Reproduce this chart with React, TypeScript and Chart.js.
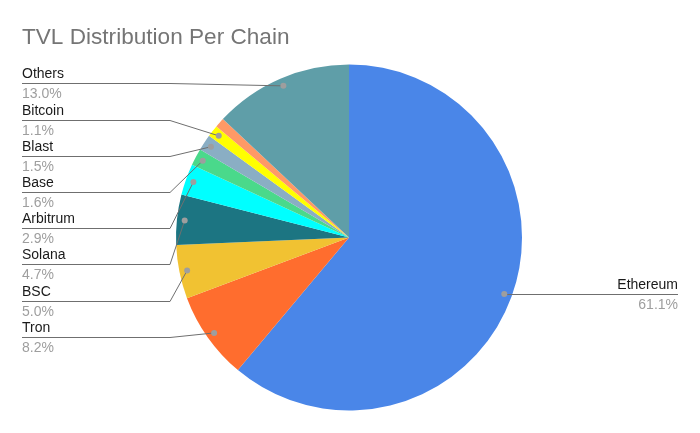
import React, { useEffect, useRef } from 'react';
import { Chart, registerables } from 'chart.js';

Chart.register(...registerables);

const chartTitle = 'TVL Distribution Per Chain';
const chains = ['Ethereum', 'Tron', 'BSC', 'Solana', 'Arbitrum', 'Base', 'Blast', 'Bitcoin', 'Other chain', 'Others'];
const shares = [61.1, 8.2, 5.0, 4.7, 2.9, 1.6, 1.5, 1.1, 0.9, 13.0];
const colors = ['#4a86e8', '#ff6d2e', '#f1c232', '#1c7582', '#00ffff', '#4ad98b', '#8aaec4', '#ffff00', '#ff9966', '#5f9ea8'];
const labelThreshold = 1.0;

const FONT = '"Liberation Sans", Arial, sans-serif';

const labelPlugin = {
  id: 'pieLabels',
  afterDraw(chart: any) {
    const ctx = chart.ctx as CanvasRenderingContext2D;
    const meta = chart.getDatasetMeta(0);
    const data = chart.data.datasets[0].data as number[];
    const total = data.reduce((a: number, b: number) => a + b, 0);

    ctx.save();
    // title
    ctx.fillStyle = '#757575';
    ctx.font = `22.6px ${FONT}`;
    ctx.textAlign = 'left';
    ctx.textBaseline = 'alphabetic';
    ctx.fillText(chartTitle, 22, 44);

    const items: any[] = [];
    meta.data.forEach((arc: any, i: number) => {
      if (data[i] < labelThreshold) return;
      const p = arc.getProps(['x', 'y', 'startAngle', 'endAngle', 'outerRadius'], true);
      const mid = (p.startAngle + p.endAngle) / 2;
      const r = p.outerRadius * 0.955;
      const dx = p.x + Math.cos(mid) * r;
      const dy = p.y + Math.sin(mid) * r;
      items.push({ i, dx, dy, left: Math.cos(mid) < 0, name: chains[i], pct: ((data[i] / total) * 100).toFixed(1) + '%' });
    });

    const left = items.filter((it) => it.left).sort((a, b) => a.dy - b.dy);
    const right = items.filter((it) => !it.left);
    const leftX = 22;
    const elbowX = 170;
    const rightX = 678;

    const drawText = (name: string, pct: string, x: number, y: number, align: CanvasTextAlign) => {
      ctx.textAlign = align;
      ctx.font = `14px ${FONT}`;
      ctx.fillStyle = '#1a1a1a';
      ctx.fillText(name, x, y - 5.5);
      ctx.fillStyle = '#9e9e9e';
      ctx.fillText(pct, x, y + 14.5);
    };

    ctx.strokeStyle = '#6f6f6f';
    ctx.lineWidth = 1;
    left.forEach((it, k) => {
      const ly = Math.round(83.3 + 36.2 * k);
      ctx.beginPath();
      ctx.moveTo(leftX, ly + 0.5);
      ctx.lineTo(elbowX, ly + 0.5);
      ctx.lineTo(it.dx, it.dy);
      ctx.stroke();
      drawText(it.name, it.pct, leftX, ly, 'left');
    });
    right.forEach((it) => {
      const ly = Math.round(it.dy);
      ctx.beginPath();
      ctx.moveTo(it.dx, ly + 0.5);
      ctx.lineTo(rightX, ly + 0.5);
      ctx.stroke();
      drawText(it.name, it.pct, rightX, ly, 'right');
    });

    ctx.fillStyle = '#9e9e9e';
    items.forEach((it) => {
      ctx.beginPath();
      ctx.arc(it.dx, it.dy, 3, 0, Math.PI * 2);
      ctx.fill();
    });
    ctx.restore();
  },
};

export default function App() {
  const ref = useRef<HTMLCanvasElement>(null);
  useEffect(() => {
    document.body.style.margin = '0';
    const chart = new Chart(ref.current!, {
      type: 'pie',
      data: {
        labels: chains,
        datasets: [
          {
            data: shares,
            backgroundColor: colors,
            borderWidth: 0,
          },
        ],
      },
      options: {
        responsive: false,
        animation: false,
        layout: { padding: { left: 176, right: 178, top: 64.5, bottom: 22.5 } },
        plugins: {
          legend: { display: false },
          tooltip: { enabled: false },
          title: { display: false },
        },
      },
      plugins: [labelPlugin],
    });
    return () => chart.destroy();
  }, []);
  return (
    <div style={{ width: 700, height: 433, background: '#fff' }}>
      <canvas ref={ref} width={700} height={433} />
    </div>
  );
}
